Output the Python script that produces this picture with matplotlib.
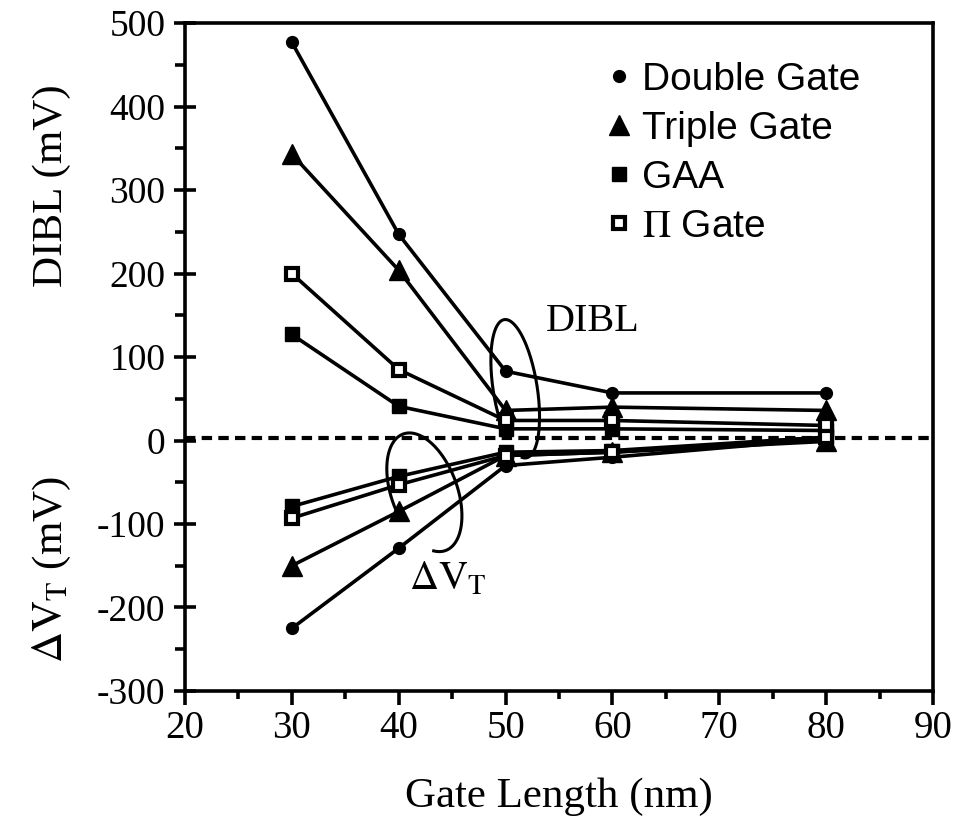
import numpy as np
import matplotlib
matplotlib.use("Agg")
import matplotlib.pyplot as plt
from matplotlib.lines import Line2D
from matplotlib.transforms import IdentityTransform

plt.rcParams["font.family"] = ["Liberation Serif", "DejaVu Serif"]
plt.rcParams["mathtext.fontset"] = "stix"
plt.rcParams["axes.unicode_minus"] = False

# gate length (nm)
gate_length = [30, 40, 50, 60, 80]

# DIBL (mV)
dibl_dg = [477, 247, 83, 57, 57]
dibl_tg = [343, 204, 36, 40, 36]
dibl_gaa = [127, 41, 14, 14, 12]
dibl_pi = [200, 85, 24, 24, 18]

# threshold voltage shift (mV)
dvt_dg = [-225, -129, -30, -20, 2]
dvt_tg = [-150, -85, -18, -14, -1]
dvt_gaa = [-79, -43, -14, -12, 4]
dvt_pi = [-93, -53, -18, -14, 4]

labels = ["Double Gate", "Triple Gate", "GAA", r"$\Pi$ Gate"]
dibl_series = [dibl_dg, dibl_tg, dibl_gaa, dibl_pi]
dvt_series = [dvt_dg, dvt_tg, dvt_gaa, dvt_pi]

styles = [
    dict(marker="o", markersize=8.5, markerfacecolor="black"),
    dict(marker="^", markersize=14, markerfacecolor="black"),
    dict(marker="s", markersize=9.5, markerfacecolor="black"),
    dict(marker="s", markersize=9, markerfacecolor="white", markeredgewidth=3),
]

fig = plt.figure(figsize=(9.56, 8.26), dpi=100)
ax = fig.add_axes([0.1935, 0.1635, 0.7825, 0.8085])

for vals_d, vals_v, st in zip(dibl_series, dvt_series, styles):
    for vals in (vals_d, vals_v):
        ax.plot(gate_length, vals, color="black", lw=2.6,
                markeredgecolor="black", **st)

ax.axhline(3, color="black", lw=3, linestyle=(0, (2.5, 1.5)), zorder=0)

ax.set_xlim(20, 90)
ax.set_ylim(-300, 500)
ax.set_xticks(np.arange(20, 91, 10))
ax.set_xticks(np.arange(25, 90, 10), minor=True)
ax.set_yticks(np.arange(-300, 501, 100))
ax.set_yticks(np.arange(-250, 500, 100), minor=True)

for s in ax.spines.values():
    s.set_linewidth(2.6)

ax.tick_params(axis="y", which="major", direction="inout", length=16, width=2.6,
               labelsize=27, pad=6)
ax.tick_params(axis="y", which="minor", direction="out", length=7, width=2.6)
ax.tick_params(axis="x", which="major", direction="out", length=10, width=2.6,
               labelsize=28, pad=4)
ax.tick_params(axis="x", which="minor", direction="out", length=6, width=2.6)

ax.set_xlabel("Gate Length (nm)", fontsize=31, labelpad=22)
fig.text(0.054, 0.775, "DIBL (mV)", rotation=90, fontsize=31,
         ha="center", va="center")
fig.text(0.054, 0.31, r"$\Delta\mathrm{V}_\mathrm{T}$ (mV)", rotation=90,
         fontsize=31, ha="center", va="center")

# annotations
ax.text(53.8, 143, "DIBL", fontsize=29, ha="left", va="center")
ax.text(41.0, -167, r"$\Delta\mathrm{V}_\mathrm{T}$", fontsize=29,
        ha="left", va="center")


def loop(cx, cy, w, h, angle, t0, t1):
    c = ax.transData.transform((cx, cy))
    t = np.radians(np.linspace(t0, t1, 200))
    px = w / 2 * np.cos(t)
    py = h / 2 * np.sin(t)
    a = np.radians(angle)
    x = c[0] + px * np.cos(a) - py * np.sin(a)
    y = c[1] + px * np.sin(a) + py * np.cos(a)
    ax.add_line(Line2D(x, y, color="black", lw=2.2,
                       transform=IdentityTransform()))


fig.canvas.draw()
loop(50.9, 62, 44, 140, 9, -100, 205)
loop(42.4, -62, 66, 124, 20, -110, 188)

handles = [Line2D([], [], color="black", linestyle="none",
                  markeredgecolor="black", **st) for st in styles]
ax.legend(handles, labels, loc="upper left", bbox_to_anchor=(0.538, 0.965),
          frameon=False, handlelength=0.8, handletextpad=0.2,
          labelspacing=0.33, borderaxespad=0,
          prop={"family": ["Liberation Sans"], "size": 28})

fig.savefig("out.png", dpi=100)
